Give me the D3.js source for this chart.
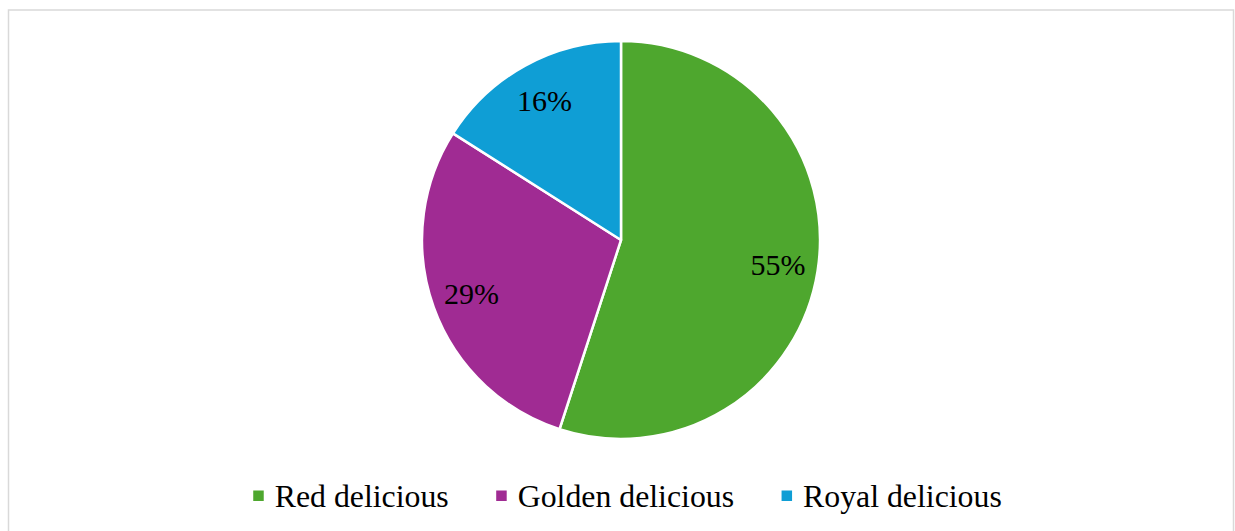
<!DOCTYPE html>
<html>
<head>
<meta charset="utf-8">
<script src="https://cdn.jsdelivr.net/npm/d3@7"></script>
<style>
  html, body { margin: 0; padding: 0; background: #fff; }
  svg { display: block; }
</style>
</head>
<body>
<svg id="chart" width="1235" height="531"></svg>
<script>
// Apple variety shares
const categories = ["Red delicious", "Golden delicious", "Royal delicious"];
const shares = [55, 29, 16];
const sliceColors = ["#4EA72E", "#A02B93", "#0F9ED5"];

const svg = d3.select("#chart");
const font = "'Liberation Serif', 'Times New Roman', serif";

// chart area frame
svg.append("rect")
  .attr("x", 8.5).attr("y", 10)
  .attr("width", 1225).attr("height", 540)
  .attr("fill", "#fff")
  .attr("stroke", "#d9d9d9")
  .attr("stroke-width", 1.5);

const cx = 621, cy = 240, R = 199;
const data = categories.map((c, i) => ({ name: c, value: shares[i], color: sliceColors[i] }));

const pie = d3.pie().value(d => d.value).sort(null);
const arc = d3.arc().innerRadius(0).outerRadius(R);
const labelArc = d3.arc().innerRadius(159).outerRadius(159);

const g = svg.append("g").attr("transform", `translate(${cx},${cy})`);
const arcs = pie(data);

g.selectAll("path.slice")
  .data(arcs)
  .join("path")
  .attr("class", "slice")
  .attr("d", arc)
  .attr("fill", d => d.data.color)
  .attr("stroke", "#fff")
  .attr("stroke-width", 2.5)
  .attr("stroke-linejoin", "round");

g.selectAll("text.pct")
  .data(arcs)
  .join("text")
  .attr("class", "pct")
  .attr("transform", d => `translate(${labelArc.centroid(d)})`)
  .attr("text-anchor", "middle")
  .attr("dy", "0.35em")
  .attr("font-family", font)
  .attr("font-size", 30)
  .attr("fill", "#000")
  .text(d => d.data.value + "%");

// legend along the bottom, centred under the pie
const legend = svg.append("g");
const items = legend.selectAll("g.item")
  .data(data)
  .join("g")
  .attr("class", "item");

items.append("rect")
  .attr("width", 10.5).attr("height", 10.5)
  .attr("y", -16.5)
  .attr("fill", d => d.color);

const labels = items.append("text")
  .attr("x", 21.5)
  .attr("font-family", font)
  .attr("font-size", 31.8)
  .attr("fill", "#000")
  .text(d => d.name);

const widths = [];
labels.each(function () { widths.push(this.getComputedTextLength()); });
const gap = 47.5;
const itemW = widths.map(w => 21.5 + w);
const total = d3.sum(itemW) + gap * (itemW.length - 1);
let x0 = 627.5 - total / 2;
items.attr("transform", (d, i) => {
  const x = x0;
  x0 += itemW[i] + gap;
  return `translate(${x},507)`;
});
</script>
</body>
</html>
